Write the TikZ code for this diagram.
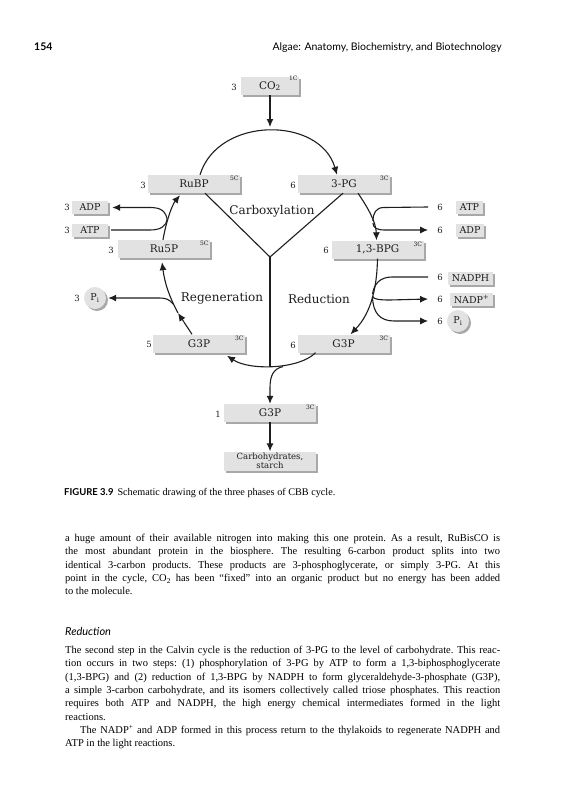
\documentclass[tikz,border=0pt]{standalone}
\usepackage{fontspec}
\setmainfont{Liberation Serif}
\newfontfamily\dgfont{DejaVu Serif}
\newfontfamily\hdfont{Lato}
\usetikzlibrary{arrows.meta,shadows}
\definecolor{boxgray}{HTML}{E2E2E2}
\definecolor{shgray}{HTML}{A8A8A8}
\definecolor{ink}{HTML}{1E1E1E}
\newcommand\justline[1]{\hbox to 435pt{#1}}
\newcommand\plainline[1]{\hbox{#1}}
\tikzset{
  bx/.style={fill=boxgray, inner sep=0pt, minimum width=92pt, minimum height=18pt,
    font=\dgfont\fontsize{10.5}{12}\selectfont, text=ink,
    drop shadow={shadow xshift=2pt, shadow yshift=-2pt, fill=shgray, opacity=1}},
  sbx/.style={bx, minimum height=13pt, font=\dgfont\fontsize{9.5}{11}\selectfont},
  circ/.style={bx, circle, minimum width=22pt, minimum height=22pt, font=\dgfont\fontsize{9.5}{11}\selectfont},
  num/.style={font=\dgfont\fontsize{8.5}{10}\selectfont, inner sep=0pt, text=ink},
  cc/.style={font=\dgfont\fontsize{6}{7}\selectfont, inner sep=0pt, anchor=north east, text=ink},
  phase/.style={font=\dgfont\fontsize{12}{14}\selectfont, inner sep=0pt, text=ink},
  ln/.style={line width=1.1pt, draw=ink},
  arr/.style={ln, -{Latex[length=8pt,width=7pt]}},
  body/.style={inner sep=0pt, anchor=base west, font=\fontsize{10.5}{13.3}\selectfont\frenchspacing}
}
\begin{document}
\begin{tikzpicture}[x=1pt,y=-1pt]
\fill[white] (0,0) rectangle (560,800);
\useasboundingbox (0,0) rectangle (560,800);

% running head
\node[anchor=base west, inner sep=0pt, font=\hdfont\bfseries\fontsize{10.5}{12}\selectfont] (pgno) at (34,51) {154};
\node[anchor=base east, inner sep=0pt, font=\hdfont\fontsize{10.5}{12}\selectfont] (rhead) at (502,51) {Algae: Anatomy, Biochemistry, and Biotechnology};

% boxes
\node[bx, minimum width=58pt] (co2) at (270,86) {CO\textsubscript{2}};
\node[bx] (rubp) at (194,184) {RuBP};
\node[bx] (pg) at (344,184) {3-PG};
\node[bx] (ru5p) at (164,249) {Ru5P};
\node[bx] (bpg) at (377.5,249.5) {1,3-BPG};
\node[bx] (g3pL) at (199,343.5) {G3P};
\node[bx] (g3pR) at (343.5,343.5) {G3P};
\node[bx] (g3pB) at (270,413) {G3P};
\node[bx, minimum height=19pt, font=\dgfont\fontsize{8.5}{9.5}\selectfont, align=center] (carb) at (270,461) {Carbohydrates,\\starch};

\node[sbx, minimum width=36pt] (adpL) at (90,207.5) {ADP};
\node[sbx, minimum width=36pt] (atpL) at (90,230) {ATP};
\node[sbx, minimum width=27pt] (atpR) at (469.5,207.5) {ATP};
\node[sbx, minimum width=28pt] (adpR) at (470,230) {ADP};
\node[sbx, minimum width=45pt] (nadph) at (470.5,278) {NADPH};
\node[sbx, minimum width=43pt] (nadp) at (471.5,299.5) {NADP\textsuperscript{+}};
\node[circ] (piL) at (95,298) {P\textsubscript{i}};
\node[circ] (piR) at (458,321) {P\textsubscript{i}};

% carbon counts
\node[cc] (c1) at ([xshift=-1.5pt,yshift=1pt]co2.north east) {1C};
\node[cc] (c2) at ([xshift=-1.5pt,yshift=-1.5pt]rubp.north east) {5C};
\node[cc] (c3) at ([xshift=-1.5pt,yshift=-1.5pt]pg.north east) {3C};
\node[cc] (c4) at ([xshift=-1.5pt,yshift=-1.5pt]ru5p.north east) {5C};
\node[cc] (c5) at ([xshift=-1.5pt,yshift=-1.5pt]bpg.north east) {3C};
\node[cc] (c6) at ([xshift=-1.5pt,yshift=-1.5pt]g3pL.north east) {3C};
\node[cc] (c7) at ([xshift=-1.5pt,yshift=-1.5pt]g3pR.north east) {3C};
\node[cc] (c8) at ([xshift=-1.5pt,yshift=-1.5pt]g3pB.north east) {3C};

% stoichiometric numbers
\node[num] (n_co2) at (234,87) {3};
\node[num] (n_rubp) at (143,185) {3};
\node[num] (n_pg) at (293,185) {6};
\node[num] (n_ru5p) at (111,250) {3};
\node[num] (n_bpg) at (326,250) {6};
\node[num] (n_g3pL) at (149,344) {5};
\node[num] (n_g3pR) at (293,345) {6};
\node[num] (n_g3pB) at (218,414) {1};
\node[num] (n_adpL) at (67,207) {3};
\node[num] (n_atpL) at (67,230) {3};
\node[num] (n_piL) at (77,298) {3};
\node[num] (n_atpR) at (440,207) {6};
\node[num] (n_adpR) at (440,230) {6};
\node[num] (n_nadph) at (440,277) {6};
\node[num] (n_nadp) at (440,299) {6};
\node[num] (n_piR) at (440,321) {6};

% phase labels
\node[phase] (carbx) at (272,211) {Carboxylation};
\node[phase] (regen) at (222,298) {Regeneration};
\node[phase] (redn) at (319,299) {Reduction};

% junction coordinates
\coordinate (ctop) at (270,127);
\coordinate (yc) at (270,257);
\coordinate (jn) at (270,367);
\coordinate (jb) at (283,366.5);
\coordinate (m1) at (178,313);

% main cycle
\draw[arr] (co2.south) -- (ctop);
\draw[arr] ([xshift=6pt]rubp.north) .. controls (218,116) and (320,116) .. ([xshift=-7pt]pg.north);
\draw[ln] ([xshift=11pt]rubp.south) -- (yc) -- ([xshift=-1pt]pg.south);
\draw[ln] (yc) -- (jn);
\draw[arr] ([xshift=-28pt]g3pR.south) .. controls (300,369) and (250,371) .. ([xshift=28pt,yshift=-3pt]g3pL.south);
\draw[arr] (jb) .. controls (273,369) and (270,376) .. (270,388) -- (g3pB.north);
\draw[arr] (g3pB.south) -- (carb.north);

% carboxylation side: 3-PG -> 1,3-BPG
\draw[arr] ([xshift=14pt]pg.south) .. controls (368,208) and (376,222) .. ([xshift=-1pt]bpg.north);
\draw[ln] ([xshift=-9pt]n_atpR.west) -- (384,207.5) .. controls (376,207.5) and (373,213) .. (373,221);
\draw[arr] (373,223) .. controls (373,228) and (377,230) .. (385,230) -- ([xshift=-9pt]n_adpR.west);

% reduction side: 1,3-BPG -> G3P
\draw[arr] (bpg.south) .. controls (377,285) and (372,312) .. ([xshift=7pt]g3pR.north);
\draw[ln] ([xshift=-9pt]n_nadph.west) -- (392,277) .. controls (380,277) and (374,284) .. (372.5,294);
\draw[arr] (372.5,296) .. controls (373,299) and (378,300) .. (390,300) -- ([xshift=-9pt]n_nadp.west);
\draw[arr] (372.5,297) .. controls (373,313) and (380,321) .. (394,321) -- ([xshift=-9pt]n_piR.west);

% regeneration side
\draw[arr] ([xshift=-7pt]g3pL.north) -- (m1);
\draw[arr] (m1) .. controls (170,298) and (165,285) .. ([xshift=-2pt,yshift=-4pt]ru5p.south);
\draw[arr] (173,304) .. controls (169,299) and (166,298) .. (158,298) -- ([xshift=2pt]piL.east);
\draw[arr] ([xshift=-1pt]ru5p.north) .. controls (166,222) and (172,205) .. ([xshift=-14pt,yshift=-2pt]rubp.south);
\draw[ln] ([xshift=3pt]atpL.east) -- (150,230) .. controls (161,230) and (166,226) .. (167.5,219);
\draw[arr] (167.5,221) .. controls (166,211) and (161,207.5) .. (150,207.5) -- ([xshift=4pt]adpL.east);

% caption
\node[anchor=base west, inner sep=0pt] (cap) at (64,495.5) {{\hdfont\bfseries\fontsize{9.5}{11}\selectfont FIGURE 3.9}\hspace{4pt}{\fontsize{10.2}{12}\selectfont Schematic drawing of the three phases of CBB cycle.}};

% body text
\node[body] (para1) at (65,541.5) {\vtop{%
\justline{a huge amount of their available nitrogen into making this one protein. As a result, RuBisCO is}
\justline{the most abundant protein in the biosphere. The resulting 6-carbon product splits into two}
\justline{identical 3-carbon products. These products are 3-phosphoglycerate, or simply 3-PG. At this}
\justline{point in the cycle, CO\textsubscript{2} has been “fixed” into an organic product but no energy has been added}
\plainline{to the molecule.}}};

\node[anchor=base west, inner sep=0pt, font=\hdfont\itshape\fontsize{11}{12}\selectfont] (head) at (65,635) {Reduction};

\node[body] (para2) at (65,653.5) {\vtop{%
\justline{The second step in the Calvin cycle is the reduction of 3-PG to the level of carbohydrate. This reac-}
\justline{tion occurs in two steps: (1) phosphorylation of 3-PG by ATP to form a 1,3-biphosphoglycerate}
\justline{(1,3-BPG) and (2) reduction of 1,3-BPG by NADPH to form glyceraldehyde-3-phosphate (G3P),}
\justline{a simple 3-carbon carbohydrate, and its isomers collectively called triose phosphates. This reaction}
\justline{requires both ATP and NADPH, the high energy chemical intermediates formed in the light}
\plainline{reactions.}
\justline{\hskip15pt The NADP\textsuperscript{+} and ADP formed in this process return to the thylakoids to regenerate NADPH and}
\plainline{ATP in the light reactions.}}};
\end{tikzpicture}
\end{document}
